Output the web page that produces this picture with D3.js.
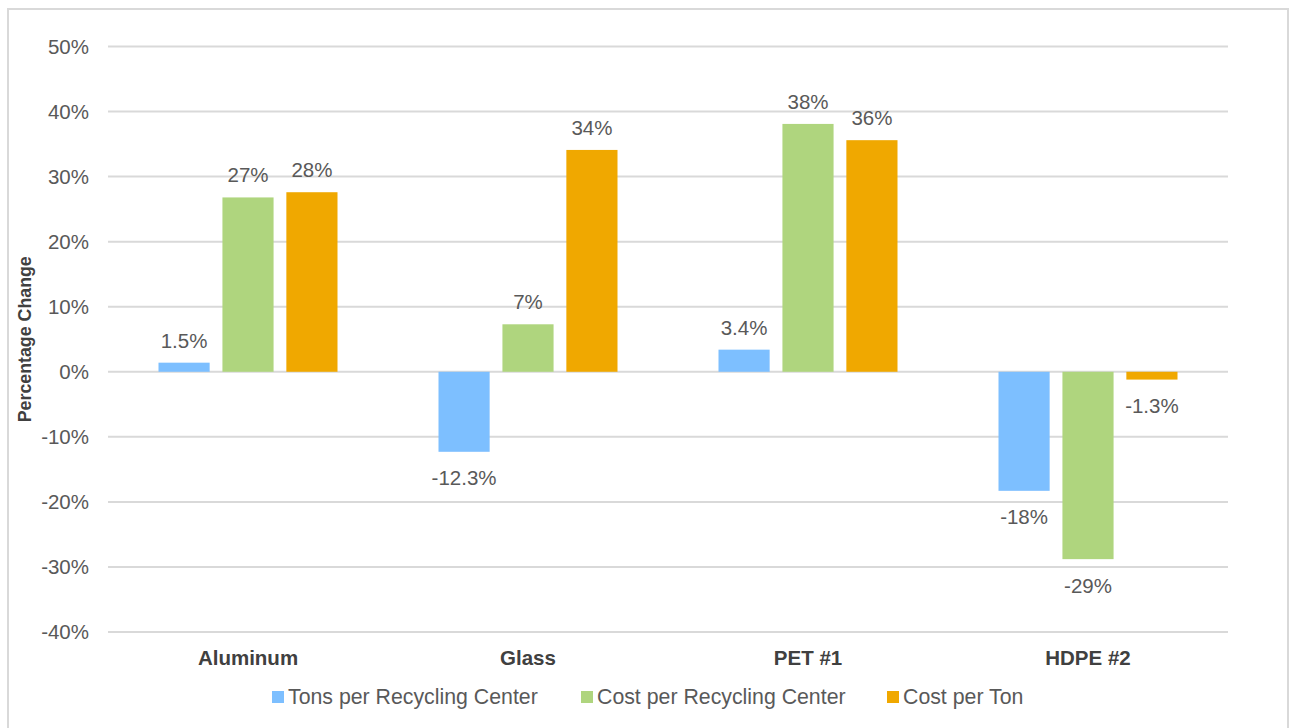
<!DOCTYPE html>
<html>
<head>
<meta charset="utf-8">
<script src="https://cdn.jsdelivr.net/npm/d3@7"></script>
<style>
  body { margin: 0; background: #fff; }
  svg { display: block; font-family: "Liberation Sans", Arial, sans-serif; }
</style>
</head>
<body>
<svg id="chart" width="1291" height="728"></svg>
<script>
// data
let categories = ['Aluminum', 'Glass', 'PET #1', 'HDPE #2'];
let seriesNames = ['Tons per Recycling Center', 'Cost per Recycling Center', 'Cost per Ton'];
let tonsPerCenter = [1.4, -12.3, 3.4, -18.3];
let costPerCenter = [26.8, 7.3, 38.1, -28.8];
let costPerTon = [27.6, 34.1, 35.6, -1.2];
let tonsLabels = ['1.5%', '-12.3%', '3.4%', '-18%'];
let centerCostLabels = ['27%', '7%', '38%', '-29%'];
let tonCostLabels = ['28%', '34%', '36%', '-1.3%'];
let yTicks = [-40, -30, -20, -10, 0, 10, 20, 30, 40, 50];

let colors = ['#7dbfff', '#afd57e', '#f0a800'];

let svg = d3.select('#chart');

// outer frame
svg.append('rect')
    .attr('x', 8).attr('y', 9)
    .attr('width', 1280).attr('height', 740)
    .attr('fill', 'none')
    .attr('stroke', '#d9d9d9')
    .attr('stroke-width', 2);

let plotLeft = 108, plotRight = 1228, plotTop = 46.5, plotBottom = 632;

let y = d3.scaleLinear().domain([-40, 50]).range([plotBottom, plotTop]);
let x0 = d3.scaleBand().domain(categories).range([plotLeft, plotRight]);
let groupWidth = 179;
let x1 = d3.scaleBand().domain(d3.range(3)).range([0, groupWidth]).paddingInner(0.2);

// gridlines
svg.append('g')
    .selectAll('line')
    .data(yTicks)
    .join('line')
    .attr('x1', plotLeft).attr('x2', plotRight)
    .attr('y1', d => y(d)).attr('y2', d => y(d))
    .attr('stroke', '#d9d9d9')
    .attr('stroke-width', 2);

// y tick labels
svg.append('g')
    .selectAll('text')
    .data(yTicks)
    .join('text')
    .attr('x', 89)
    .attr('y', d => y(d))
    .attr('dy', '0.35em')
    .attr('text-anchor', 'end')
    .attr('font-size', 20.5)
    .attr('fill', '#595959')
    .text(d => d + '%');

// y axis title
svg.append('text')
    .attr('transform', `translate(31,${(plotTop + plotBottom) / 2}) rotate(-90)`)
    .attr('text-anchor', 'middle')
    .attr('font-size', 17.8)
    .attr('font-weight', 'bold')
    .attr('fill', '#404040')
    .text('Percentage Change');

let series = [
    { values: tonsPerCenter, labels: tonsLabels },
    { values: costPerCenter, labels: centerCostLabels },
    { values: costPerTon, labels: tonCostLabels }
];

let groupOffset = (x0.bandwidth() - groupWidth) / 2;

series.forEach(function(s, i) {
    let g = svg.append('g');
    let data = categories.map((c, j) => ({ cat: c, v: s.values[j], label: s.labels[j] }));
    let bx = d => x0(d.cat) + groupOffset + x1(i);

    g.selectAll('rect')
        .data(data)
        .join('rect')
        .attr('x', bx)
        .attr('width', x1.bandwidth())
        .attr('y', d => y(Math.max(0, d.v)))
        .attr('height', d => Math.abs(y(d.v) - y(0)))
        .attr('fill', colors[i]);

    g.selectAll('text')
        .data(data)
        .join('text')
        .attr('x', d => bx(d) + x1.bandwidth() / 2)
        .attr('y', d => d.v >= 0 ? y(d.v) - 15 : y(d.v) + 33.5)
        .attr('text-anchor', 'middle')
        .attr('font-size', 20.5)
        .attr('fill', '#595959')
        .text(d => d.label);
});

// category labels
svg.append('g')
    .selectAll('text')
    .data(categories)
    .join('text')
    .attr('x', d => x0(d) + x0.bandwidth() / 2)
    .attr('y', 665)
    .attr('text-anchor', 'middle')
    .attr('font-size', 20.5)
    .attr('font-weight', 'bold')
    .attr('fill', '#404040')
    .text(d => d);

// legend
let legendX = [272, 581, 887];
let legend = svg.append('g')
    .selectAll('g')
    .data(seriesNames)
    .join('g')
    .attr('transform', (d, i) => `translate(${legendX[i]},697)`);

legend.append('rect')
    .attr('x', 0).attr('y', -6)
    .attr('width', 12).attr('height', 12)
    .attr('fill', (d, i) => colors[i]);

legend.append('text')
    .attr('x', 16)
    .attr('y', 0)
    .attr('dy', '0.35em')
    .attr('font-size', 21.3)
    .attr('fill', '#595959')
    .text(d => d);
</script>
</body>
</html>
